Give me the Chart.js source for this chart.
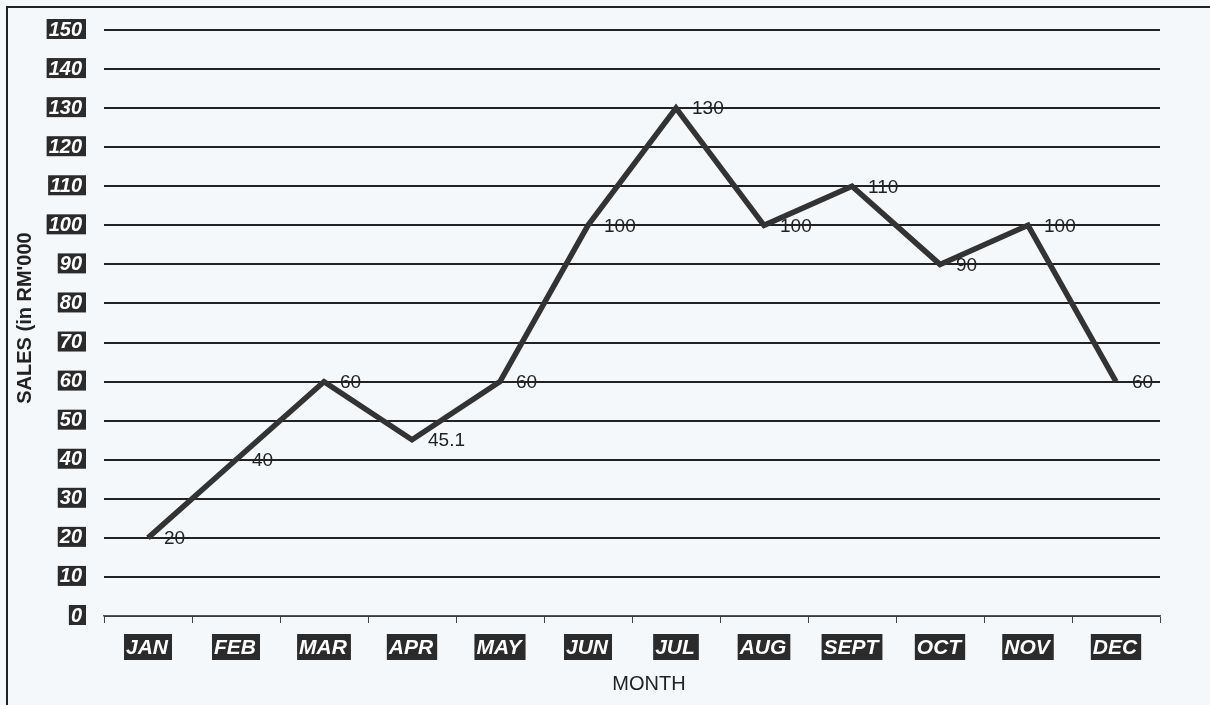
<!DOCTYPE html>
<html>
<head>
<meta charset="utf-8">
<script src="https://cdn.jsdelivr.net/npm/chart.js@4/dist/chart.umd.min.js"></script>
<style>
  html, body { margin: 0; padding: 0; background: #f5f8fb; }
  #wrap { position: relative; width: 1210px; height: 705px; }
</style>
</head>
<body>
<div id="wrap"><canvas id="salesChart" width="1210" height="705"></canvas></div>
<script>
// Dados do gráfico
const months = ['JAN', 'FEB', 'MAR', 'APR', 'MAY', 'JUN', 'JUL', 'AUG', 'SEPT', 'OCT', 'NOV', 'DEC'];
const sales = [20, 40, 60, 45.1, 60, 100, 130, 100, 110, 90, 100, 60];
const yTicks = [0, 10, 20, 30, 40, 50, 60, 70, 80, 90, 100, 110, 120, 130, 140, 150];

// Fundo, moldura, rótulos com caixa escura e valores dos pontos
const decorPlugin = {
    id: 'decor',
    beforeDraw(chart) {
        const c = chart.ctx;
        c.save();
        c.fillStyle = '#f5f8fb';
        c.fillRect(0, 0, chart.width, chart.height);
        c.strokeStyle = '#222';
        c.lineWidth = 2;
        c.strokeRect(7, 7, 1300, 800);
        c.restore();
    },
    afterDraw(chart) {
        const c = chart.ctx;
        const xs = chart.scales.x;
        const ys = chart.scales.y;
        c.save();

        // rótulos do eixo Y
        c.font = 'italic bold 20px "Liberation Sans", Arial, sans-serif';
        c.textBaseline = 'middle';
        c.textAlign = 'center';
        yTicks.forEach(v => {
            const y = ys.getPixelForValue(v) - 1;
            const txt = String(v);
            const w = c.measureText(txt).width + 6;
            const right = 86;
            c.fillStyle = '#2b2b2b';
            c.fillRect(right - w, y - 10, w, 20);
            c.fillStyle = '#fff';
            c.fillText(txt, right - w / 2 - 1, y + 1);
        });

        // rótulos do eixo X
        c.font = 'italic bold 21px "Liberation Sans", Arial, sans-serif';
        months.forEach((m, i) => {
            const x = xs.getPixelForValue(i);
            const w = c.measureText(m).width + 6;
            c.fillStyle = '#2b2b2b';
            c.fillRect(x - w / 2, 634, w, 26);
            c.fillStyle = '#fff';
            c.fillText(m, x - 1, 648);
        });

        // títulos dos eixos
        c.fillStyle = '#222';
        c.font = '20px "Liberation Sans", Arial, sans-serif';
        c.fillText('MONTH', 649, 684);
        c.save();
        c.translate(25, 318);
        c.rotate(-Math.PI / 2);
        c.font = 'bold 20px "Liberation Sans", Arial, sans-serif';
        c.fillText("SALES (in RM'000", 0, 0);
        c.restore();

        // valores dos pontos
        c.font = '19px "Liberation Sans", Arial, sans-serif';
        c.textAlign = 'left';
        const meta = chart.getDatasetMeta(0);
        meta.data.forEach((pt, i) => {
            c.fillText(String(sales[i]), pt.x + 16, pt.y + 1);
        });
        c.restore();
    }
};

const ctx = document.getElementById('salesChart');
new Chart(ctx, {
    type: 'line',
    data: {
        labels: months,
        datasets: [{
            label: 'Sales',
            data: sales,
            borderColor: '#333',
            borderWidth: 5.5,
            borderJoinStyle: 'miter',
            pointRadius: 0,
            tension: 0,
            fill: false
        }]
    },
    plugins: [decorPlugin],
    options: {
        responsive: false,
        animation: false,
        layout: {
            padding: { left: 104, right: 50, top: 30, bottom: 82 }
        },
        plugins: {
            legend: { display: false },
            tooltip: { enabled: false }
        },
        scales: {
            x: {
                offset: true,
                ticks: { display: false },
                grid: {
                    offset: true,
                    drawOnChartArea: false,
                    drawTicks: true,
                    tickLength: 7,
                    color: '#444',
                    lineWidth: 1
                },
                border: { display: true, color: '#555', width: 1.5 }
            },
            y: {
                min: 0,
                max: 150,
                ticks: { display: false, stepSize: 10 },
                grid: {
                    drawTicks: false,
                    color: '#222',
                    lineWidth: 2
                },
                border: { display: false }
            }
        }
    }
});
</script>
</body>
</html>
